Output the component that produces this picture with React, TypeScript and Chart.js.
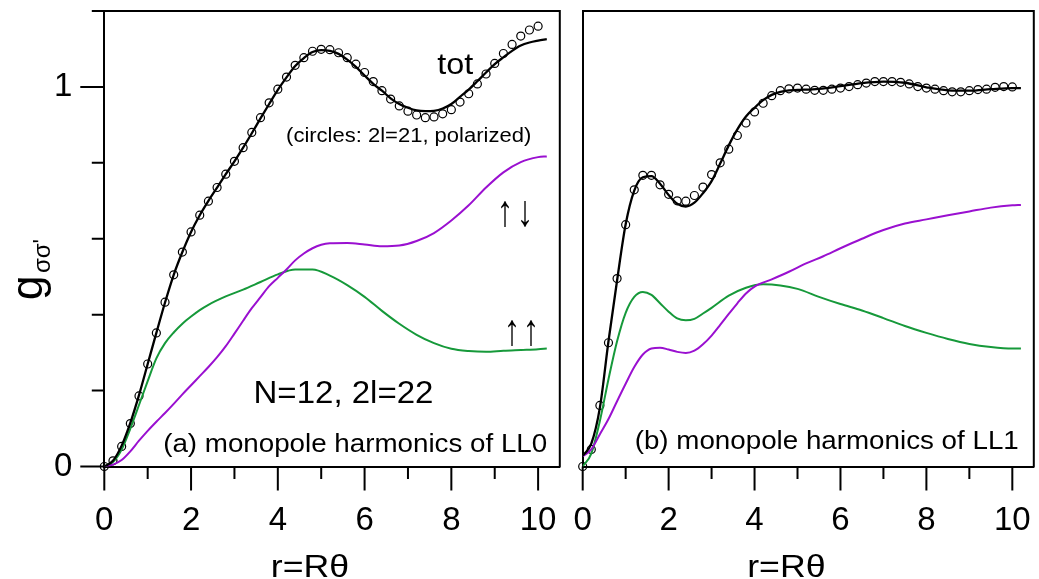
import React, { useEffect, useRef } from "react";
import { Chart, registerables } from "chart.js";

Chart.register(...registerables);

const FONT = '"Liberation Sans", Arial, Helvetica, sans-serif';
const GREEN = "#16993a";
const PURPLE = "#9a10d0";

// ---------- axis ticks ----------
const X_MAJOR = [0, 2, 4, 6, 8, 10];
const X_MINOR = [1, 3, 5, 7, 9];
const Y_MAJOR = [0, 1];
const Y_MINOR = [0.2, 0.4, 0.6, 0.8, 1.2];
const X_MAX = 10.5;
const Y_MAX = 1.2;

// ---------- panel (a): LL0 ----------
const rTotA = [0, 0.2, 0.4, 0.6, 0.8, 1.0, 1.2, 1.4, 1.6, 1.8, 2.0, 2.2, 2.4, 2.6, 2.8, 3.0, 3.2, 3.4, 3.6, 3.8, 4.0, 4.2, 4.4, 4.6, 4.8, 5.0, 5.2, 5.4, 5.6, 5.8, 6.0, 6.2, 6.4, 6.6, 6.8, 7.0, 7.2, 7.4, 7.6, 7.8, 8.0, 8.2, 8.4, 8.6, 8.8, 9.0, 9.2, 9.4, 9.6, 9.8, 10.0, 10.2];
const gTotA = [0, 0.015, 0.055, 0.115, 0.188, 0.27, 0.352, 0.432, 0.505, 0.565, 0.618, 0.662, 0.7, 0.735, 0.77, 0.804, 0.84, 0.878, 0.917, 0.955, 0.992, 1.025, 1.055, 1.076, 1.092, 1.097, 1.095, 1.087, 1.072, 1.053, 1.03, 1.008, 0.99, 0.97, 0.955, 0.945, 0.938, 0.936, 0.937, 0.943, 0.955, 0.974, 0.993, 1.015, 1.038, 1.06, 1.078, 1.095, 1.109, 1.117, 1.122, 1.126];

const rCircA = [0, 0.2, 0.4, 0.6, 0.8, 1.0, 1.2, 1.4, 1.6, 1.8, 2.0, 2.2, 2.4, 2.6, 2.8, 3.0, 3.2, 3.4, 3.6, 3.8, 4.0, 4.2, 4.4, 4.6, 4.8, 5.0, 5.2, 5.4, 5.6, 5.8, 6.0, 6.2, 6.4, 6.6, 6.8, 7.0, 7.2, 7.4, 7.6, 7.8, 8.0, 8.2, 8.4, 8.6, 8.8, 9.0, 9.2, 9.4, 9.6, 9.8, 10.0];
const gCircA = [0, 0.015, 0.053, 0.113, 0.186, 0.27, 0.352, 0.433, 0.505, 0.565, 0.618, 0.662, 0.699, 0.735, 0.77, 0.804, 0.84, 0.88, 0.919, 0.958, 0.994, 1.026, 1.057, 1.077, 1.094, 1.099, 1.098, 1.09, 1.077, 1.06, 1.038, 1.014, 0.99, 0.968, 0.95, 0.936, 0.926, 0.919, 0.921, 0.929, 0.94, 0.96, 0.982, 1.008, 1.034, 1.062, 1.088, 1.112, 1.134, 1.15, 1.16];

const rUpUpA = [0, 0.2, 0.4, 0.6, 0.8, 1.0, 1.2, 1.4, 1.6, 1.8, 2.0, 2.2, 2.4, 2.8, 3.2, 3.6, 4.0, 4.4, 4.8, 5.2, 5.6, 6.0, 6.4, 6.8, 7.2, 7.6, 8.0, 8.4, 8.8, 9.2, 9.6, 10.0, 10.2];
const gUpUpA = [0, 0.012, 0.045, 0.1, 0.162, 0.225, 0.285, 0.325, 0.353, 0.376, 0.395, 0.412, 0.426, 0.448, 0.466, 0.486, 0.506, 0.519, 0.519, 0.503, 0.478, 0.447, 0.41, 0.376, 0.347, 0.325, 0.31, 0.304, 0.302, 0.305, 0.307, 0.309, 0.311];

const rUpDnA = [0, 0.2, 0.4, 0.6, 0.8, 1.0, 1.2, 1.4, 1.6, 1.8, 2.0, 2.2, 2.4, 2.6, 2.8, 3.0, 3.2, 3.4, 3.6, 3.8, 4.0, 4.2, 4.4, 4.6, 4.8, 5.0, 5.2, 5.6, 6.0, 6.4, 6.8, 7.2, 7.6, 8.0, 8.4, 8.8, 9.2, 9.6, 10.0, 10.2];
const gUpDnA = [0, 0.005, 0.017, 0.04, 0.068, 0.094, 0.118, 0.141, 0.165, 0.19, 0.214, 0.238, 0.262, 0.288, 0.317, 0.35, 0.384, 0.417, 0.446, 0.475, 0.497, 0.519, 0.543, 0.561, 0.575, 0.584, 0.588, 0.589, 0.585, 0.58, 0.582, 0.594, 0.615, 0.648, 0.688, 0.735, 0.775, 0.802, 0.815, 0.817];

// ---------- panel (b): LL1 ----------
const rTotB = [0, 0.2, 0.4, 0.6, 0.8, 1.0, 1.2, 1.4, 1.6, 1.8, 2.0, 2.2, 2.4, 2.6, 2.8, 3.0, 3.2, 3.4, 3.6, 3.8, 4.0, 4.2, 4.4, 4.6, 4.8, 5.0, 5.5, 6.0, 6.5, 7.0, 7.5, 8.0, 8.5, 9.0, 9.5, 10.0, 10.2];
const gTotB = [0.028, 0.06, 0.155, 0.33, 0.49, 0.638, 0.727, 0.762, 0.765, 0.745, 0.715, 0.692, 0.685, 0.695, 0.72, 0.752, 0.798, 0.846, 0.888, 0.922, 0.945, 0.965, 0.979, 0.987, 0.991, 0.992, 0.995, 1.002, 1.01, 1.014, 1.011, 0.999, 0.991, 0.99, 0.994, 0.997, 0.997];

const rCircB = [0, 0.2, 0.4, 0.6, 0.8, 1.0, 1.2, 1.4, 1.6, 1.8, 2.0, 2.2, 2.4, 2.6, 2.8, 3.0, 3.2, 3.4, 3.6, 3.8, 4.0, 4.2, 4.4, 4.6, 4.8, 5.0, 5.2, 5.4, 5.6, 5.8, 6.0, 6.2, 6.4, 6.6, 6.8, 7.0, 7.2, 7.4, 7.6, 7.8, 8.0, 8.2, 8.4, 8.6, 8.8, 9.0, 9.2, 9.4, 9.6, 9.8, 10.0];
const gCircB = [0, 0.045, 0.161, 0.326, 0.495, 0.637, 0.729, 0.767, 0.767, 0.742, 0.717, 0.7, 0.699, 0.714, 0.736, 0.769, 0.8, 0.836, 0.872, 0.905, 0.934, 0.957, 0.977, 0.99, 0.995, 0.997, 0.994, 0.991, 0.991, 0.994, 0.997, 1.001, 1.006, 1.01, 1.014, 1.014, 1.014, 1.012, 1.008, 1.001, 0.997, 0.994, 0.99, 0.987, 0.987, 0.99, 0.993, 0.994, 0.999, 1.001, 1.0];

const rUpUpB = [0, 0.2, 0.4, 0.6, 0.8, 1.0, 1.2, 1.4, 1.6, 1.8, 2.0, 2.2, 2.4, 2.6, 2.8, 3.0, 3.4, 3.8, 4.2, 4.6, 5.0, 5.5, 6.0, 6.5, 7.0, 7.5, 8.0, 8.5, 9.0, 9.5, 10.0, 10.2];
const gUpUpB = [0, 0.034, 0.12, 0.23, 0.33, 0.405, 0.447, 0.46, 0.452, 0.43, 0.408, 0.39, 0.385, 0.389, 0.403, 0.418, 0.45, 0.471, 0.48, 0.477, 0.468, 0.447, 0.428, 0.411, 0.391, 0.37, 0.352, 0.336, 0.323, 0.315, 0.311, 0.311];

const rUpDnB = [0, 0.2, 0.4, 0.6, 0.8, 1.0, 1.2, 1.4, 1.6, 1.8, 2.0, 2.2, 2.4, 2.6, 2.8, 3.0, 3.2, 3.4, 3.6, 3.8, 4.0, 4.4, 4.8, 5.2, 5.6, 6.0, 6.5, 7.0, 7.5, 8.0, 8.5, 9.0, 9.5, 10.0, 10.2];
const gUpDnB = [0.027, 0.045, 0.085, 0.125, 0.172, 0.218, 0.262, 0.295, 0.311, 0.313, 0.308, 0.302, 0.299, 0.305, 0.322, 0.345, 0.373, 0.402, 0.43, 0.456, 0.474, 0.493, 0.513, 0.535, 0.554, 0.575, 0.6, 0.623, 0.64, 0.651, 0.662, 0.672, 0.682, 0.688, 0.689];

// ---------- helpers ----------
const pts = (r: number[], g: number[]) => r.map((x, i) => ({ x, y: g[i] }));

function lineDs(label: string, r: number[], g: number[], color: string, w: number) {
  return {
    label,
    data: pts(r, g),
    borderColor: color,
    borderWidth: w,
    pointRadius: 0,
    fill: false,
    cubicInterpolationMode: "monotone" as const,
  };
}

function circleDs(label: string, r: number[], g: number[]) {
  return {
    label,
    data: pts(r, g),
    showLine: false,
    pointRadius: 4,
    pointBorderWidth: 1.2,
    pointBorderColor: "#000",
    pointBackgroundColor: "rgba(0,0,0,0)",
    clip: false as const,
  };
}

function drawText(
  ctx: CanvasRenderingContext2D,
  text: string,
  x: number,
  y: number,
  size: number,
  align: CanvasTextAlign,
  baseline: CanvasTextBaseline,
  sx = 1.1
) {
  ctx.save();
  ctx.translate(x, y);
  ctx.scale(sx, 1);
  ctx.font = `${size}px ${FONT}`;
  ctx.textAlign = align;
  ctx.textBaseline = baseline;
  ctx.fillStyle = "#000";
  ctx.fillText(text, 0, 0);
  ctx.restore();
}

function framePlugin(panel: "a" | "b") {
  return {
    id: "frame" + panel,
    afterDatasetsDraw(chart: any) {
      const { ctx, chartArea: ca, scales } = chart;
      const xs = scales.x;
      const ys = scales.y;
      const X = (v: number) => xs.getPixelForValue(v);
      const Y = (v: number) => ys.getPixelForValue(v);
      ctx.save();
      ctx.strokeStyle = "#000";
      ctx.lineWidth = 2;
      ctx.lineCap = "butt";
      ctx.beginPath();
      ctx.moveTo(ca.left, ca.top);
      ctx.lineTo(ca.right, ca.top);
      ctx.lineTo(ca.right, ca.bottom + 1);
      ctx.stroke();
      const y0 = Y(0);
      ctx.beginPath();
      X_MAJOR.forEach((v) => {
        ctx.moveTo(X(v), y0);
        ctx.lineTo(X(v), y0 + 24);
      });
      X_MINOR.forEach((v) => {
        ctx.moveTo(X(v), y0);
        ctx.lineTo(X(v), y0 + 12.5);
      });
      if (panel === "a") {
        const x0 = X(0);
        Y_MAJOR.forEach((v) => {
          ctx.moveTo(x0, Y(v));
          ctx.lineTo(x0 - 24, Y(v));
        });
        Y_MINOR.forEach((v) => {
          ctx.moveTo(x0, Y(v));
          ctx.lineTo(x0 - 12.5, Y(v));
        });
      }
      ctx.stroke();

      // axis title
      drawText(ctx, "r=R\u03b8", X(4.74), 576.5, 31, "center", "alphabetic", 1.15);

      if (panel === "a") {
        // y title g_{σσ'}
        ctx.save();
        ctx.translate(42, 300);
        ctx.rotate(-Math.PI / 2);
        ctx.fillStyle = "#000";
        ctx.textAlign = "left";
        ctx.textBaseline = "alphabetic";
        ctx.font = `44px ${FONT}`;
        ctx.fillText("g", 0, 0);
        ctx.font = `24px ${FONT}`;
        ctx.fillText("\u03c3\u03c3'", 27, 8);
        ctx.restore();

        drawText(ctx, "tot", X(8.09), Y(1.035), 30, "center", "alphabetic", 1.08);
        drawText(ctx, "(circles: 2l=21, polarized)", X(4.19), Y(0.855), 20, "left", "alphabetic", 1.1);
        // spin arrows (↑↓ above the purple curve, ↑↑ above the green one)
        drawText(ctx, "\u2191", 505, 213.5, 44, "center", "middle", 0.75);
        drawText(ctx, "\u2193", 525, 213.5, 44, "center", "middle", 0.75);
        drawText(ctx, "\u2191", 512, 332.5, 44, "center", "middle", 0.75);
        drawText(ctx, "\u2191", 531, 332.5, 44, "center", "middle", 0.75);
        drawText(ctx, "N=12, 2l=22", X(3.44), Y(0.168), 31, "left", "alphabetic", 1.065);
        drawText(ctx, "(a) monopole harmonics of LL0", X(10.21), Y(0.039), 25, "right", "alphabetic", 1.11);
      } else {
        drawText(ctx, "(b) monopole harmonics of LL1", X(10.15), Y(0.045), 25, "right", "alphabetic", 1.11);
      }
      ctx.restore();
    },
  };
}

function buildConfig(panel: "a" | "b"): any {
  const isA = panel === "a";
  const datasets = isA
    ? [
        lineDs("tot", rTotA, gTotA, "#000", 2.3),
        lineDs("\u2191\u2193", rUpDnA, gUpDnA, PURPLE, 2),
        lineDs("\u2191\u2191", rUpUpA, gUpUpA, GREEN, 2),
        circleDs("2l=21 polarized", rCircA, gCircA),
      ]
    : [
        lineDs("tot", rTotB, gTotB, "#000", 2.3),
        lineDs("\u2191\u2193", rUpDnB, gUpDnB, PURPLE, 2),
        lineDs("\u2191\u2191", rUpUpB, gUpUpB, GREEN, 2),
        circleDs("2l=21 polarized", rCircB, gCircB),
      ];
  const tickFont = { family: FONT, size: 33 };
  return {
    type: "line",
    data: { datasets },
    options: {
      responsive: false,
      animation: false,
      devicePixelRatio: 1,
      events: [],
      layout: { padding: { top: 11, right: isA ? 5 : 1.3, left: 0, bottom: 0 } },
      plugins: { legend: { display: false }, tooltip: { enabled: false } },
      scales: {
        x: {
          type: "linear",
          position: "bottom",
          min: 0,
          max: X_MAX,
          afterBuildTicks: (s: any) => {
            s.ticks = X_MAJOR.map((v) => ({ value: v }));
          },
          afterFit: (s: any) => {
            s.height = 112.5;
            s.paddingLeft = 0;
            s.paddingRight = 0;
          },
          grid: { display: false, drawTicks: false },
          border: { display: true, color: "#000", width: 2 },
          ticks: {
            autoSkip: false,
            maxRotation: 0,
            minRotation: 0,
            padding: 35,
            color: "#000",
            font: tickFont,
          },
        },
        y: {
          type: "linear",
          position: "left",
          min: 0,
          max: Y_MAX,
          afterBuildTicks: (s: any) => {
            s.ticks = Y_MAJOR.map((v) => ({ value: v }));
          },
          afterFit: (s: any) => {
            s.width = isA ? 104.3 : 17.7;
            s.paddingTop = 0;
            s.paddingBottom = 0;
          },
          grid: { display: false, drawTicks: false },
          border: { display: true, color: "#000", width: 2 },
          ticks: {
            display: isA,
            padding: 32,
            color: "#000",
            font: tickFont,
          },
        },
      },
    },
    plugins: [framePlugin(panel)],
  };
}

function Panel({ panel, left, width }: { panel: "a" | "b"; left: number; width: number }) {
  const ref = useRef<HTMLCanvasElement | null>(null);
  useEffect(() => {
    if (!ref.current) return;
    const chart = new Chart(ref.current, buildConfig(panel));
    return () => chart.destroy();
  }, [panel]);
  return (
    <canvas
      ref={ref}
      width={width}
      height={579}
      style={{ position: "absolute", left, top: 0, width, height: 579 }}
    />
  );
}

export default function App() {
  return (
    <div
      style={{
        position: "absolute",
        left: 0,
        top: 0,
        width: 1039,
        height: 579,
        background: "#fff",
        overflow: "hidden",
      }}
    >
      <Panel panel="a" left={0} width={565} />
      <Panel panel="b" left={565} width={474} />
    </div>
  );
}
